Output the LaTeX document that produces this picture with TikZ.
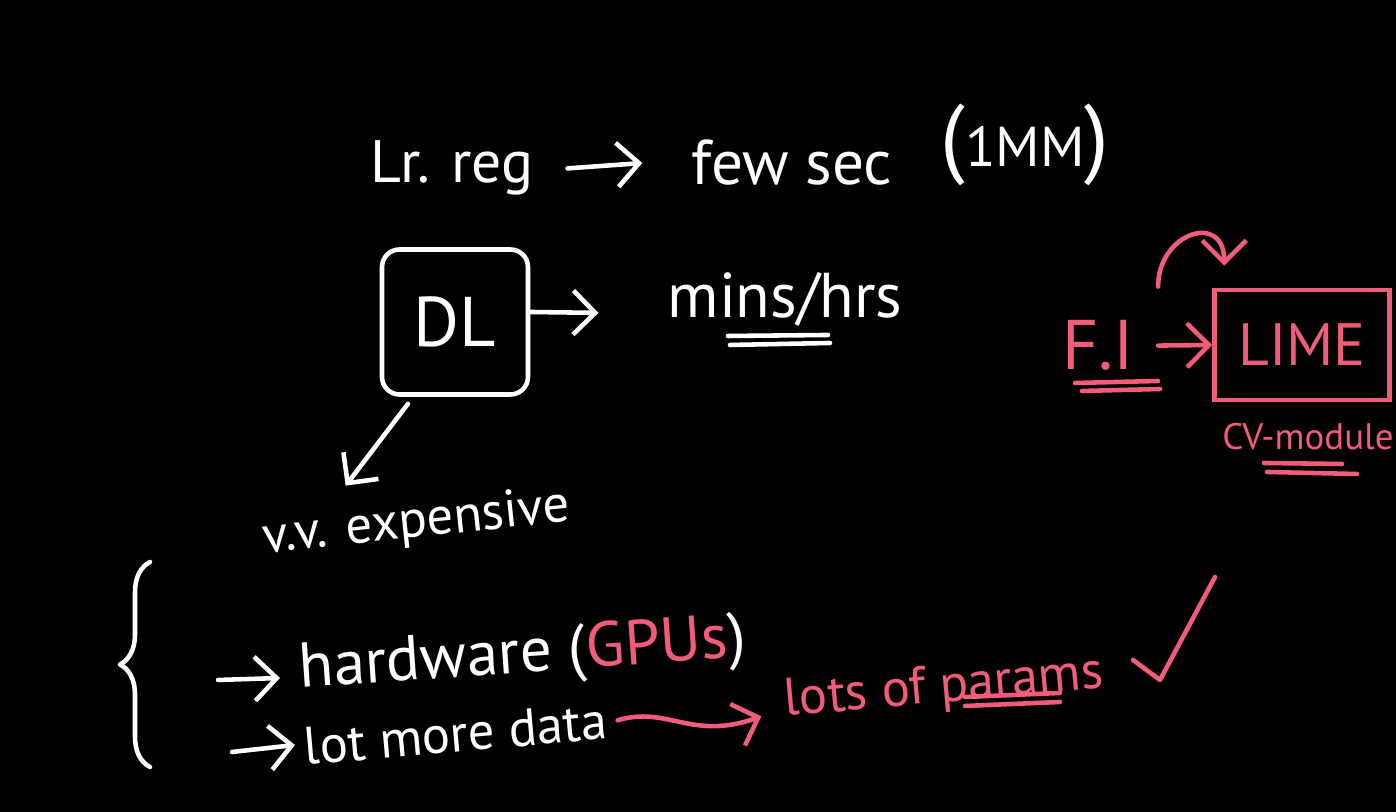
\documentclass[tikz,border=0pt]{standalone}
\usepackage{fontspec}
\setmainfont{PT Sans}
\usepackage{tikz}
\usetikzlibrary{positioning, arrows.meta, decorations.pathreplacing}
\definecolor{pen}{RGB}{240,92,122}

\tikzset{
    hand/.style={text=white, inner sep=1pt, font=\fontsize{18}{20}\selectfont},
    pinkhand/.style={hand, text=pen},
    stroke/.style={draw=white, line width=1.3pt, line cap=round, line join=round},
    pinkstroke/.style={stroke, draw=pen},
    tip/.style={-{Straight Barb[length=2.2mm,width=4.4mm]}}
}
\newcommand{\bigparen}[1]{{\fontsize{25}{28}\selectfont #1}}

\begin{document}
\begin{tikzpicture}
    \fill[black] (0,0) rectangle (13.96,8.12);
    \useasboundingbox (0,0) rectangle (13.96,8.12);

    \node[hand, anchor=base, font=\fontsize{17}{20}\selectfont] (lr) at (4.52,6.29) {Lr. reg};
    \node[hand, anchor=base] (few) at (7.92,6.27) {few sec};
    \node[hand, anchor=base, font=\fontsize{16}{20}\selectfont] (mm) at (10.25,6.45) {\bigparen{(}1MM\bigparen{)}};
    \draw[stroke, tip] ([xshift=3mm]lr.east) -- ([xshift=-4.5mm]few.west);

    \node[hand, draw=white, line width=1.3pt, rounded corners=5pt, minimum width=1.46cm, minimum height=1.45cm, font=\fontsize{20}{22}\selectfont] (dl) at (4.55,4.90) {DL};
    \node[hand, anchor=base] (mins) at (7.85,4.94) {mins/hrs};
    \draw[stroke, tip] ([yshift=1mm]dl.east) -- ([xshift=-6.5mm,yshift=-1.3mm]mins.west);
    \draw[stroke] ([xshift=-5.7mm,yshift=-1.8mm]mins.base) -- ([xshift=4.3mm,yshift=-1.7mm]mins.base);
    \draw[stroke] ([xshift=-5.5mm,yshift=-2.7mm]mins.base) -- ([xshift=4.5mm,yshift=-2.5mm]mins.base);

    \node[hand, anchor=base, rotate=6, font=\fontsize{15}{18}\selectfont] (exp) at (4.18,2.75) {v.v. expensive};
    \draw[stroke, tip] ([xshift=-4.7mm,yshift=-0.7mm]dl.south) -- ([xshift=-6.8mm,yshift=1mm]exp.north);

    % brace with the two items
    \coordinate (bb) at (1.50,0.45);
    \coordinate (bt) at (1.50,2.50);
    \draw[stroke, decorate, decoration={brace, amplitude=0.3cm}] (bb) -- (bt);
    \node[hand, inner sep=0pt, anchor=base west, rotate=4] (hw) at (3.0,1.24) {hardware (\textcolor{pen}{GPUs})};
    \node[hand, inner sep=0pt, anchor=base west, rotate=5, font=\fontsize{15}{18}\selectfont] (data) at (3.05,0.47) {lot more data};
    \coordinate (s1) at (2.18,1.32);
    \coordinate (s2) at (2.32,0.60);
    \draw[stroke, tip] (s1) -- ([xshift=-2mm,yshift=1mm]hw.base west);
    \draw[stroke, tip] (s2) -- ([xshift=-1mm,yshift=2mm]data.base west);

    \node[pinkhand, anchor=base, rotate=5, font=\fontsize{15}{18}\selectfont] (params) at (9.45,1.10) {lots of params};
    \draw[pinkstroke, tip] ([xshift=1mm]data.east) .. controls +(0.5,0.15) and +(-0.7,-0.25) .. ([xshift=-2mm]params.base west);
    \draw[pinkstroke] ([xshift=2mm,yshift=0.5mm]params.base) -- ([xshift=11.5mm,yshift=0.9mm]params.base);
    \draw[pinkstroke] ([xshift=2mm,yshift=-0.4mm]params.base) -- ([xshift=11.5mm,yshift=0mm]params.base);
    \draw[pinkstroke] (11.33,1.52) -- (11.60,1.32) -- (12.15,2.35);

    \node[pinkhand, anchor=base, font=\fontsize{20}{22}\selectfont] (fi) at (10.98,4.42) {F.I};
    \node[pinkhand, draw=pen, line width=1.3pt, minimum width=1.75cm, minimum height=1.1cm, font=\fontsize{17}{20}\selectfont] (lime) at (13.02,4.67) {LIME};
    \draw[pinkstroke, tip, shorten <=2mm] (fi.east) -- (lime.west);
    \draw[pinkstroke, tip] ([xshift=2mm,yshift=3mm]fi.north east) to[out=90, in=90, looseness=2] ([xshift=1.2mm,yshift=2.2mm]lime.north west);
    \draw[pinkstroke] ([xshift=-2.3mm,yshift=-1.3mm]fi.base) -- ([xshift=6mm,yshift=-1.1mm]fi.base);
    \draw[pinkstroke] ([xshift=-1.6mm,yshift=-2.1mm]fi.base) -- ([xshift=6.2mm,yshift=-1.9mm]fi.base);

    \node[pinkhand, anchor=base, font=\fontsize{10.5}{13}\selectfont] (cv) at (13.08,3.62) {CV-module};
    \draw[pinkstroke] ([xshift=-4.4mm,yshift=-1.3mm]cv.base) -- ([xshift=3.4mm,yshift=-1.4mm]cv.base);
    \draw[pinkstroke] ([xshift=-4.1mm,yshift=-2.2mm]cv.base) -- ([xshift=4.9mm,yshift=-2.4mm]cv.base);
\end{tikzpicture}
\end{document}
